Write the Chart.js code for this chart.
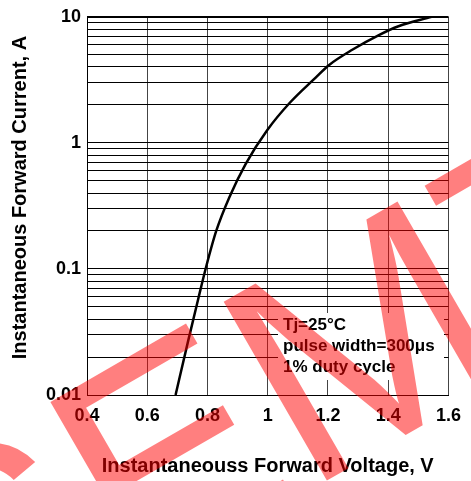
<!DOCTYPE html>
<html>
<head>
<meta charset="utf-8">
<script src="https://cdn.jsdelivr.net/npm/chart.js@4"></script>
<style>
  html, body { margin: 0; padding: 0; background: #fff; }
  canvas { display: block; }
</style>
</head>
<body>
<canvas id="chart" width="471" height="481"></canvas>
<script>
// Forward voltage (V) and forward current (A)
const vf   = [0.694, 0.736, 0.769, 0.796, 0.829, 0.873, 0.926, 0.998, 1.074, 1.151, 1.205, 1.282, 1.369, 1.434, 1.544];
const ifwd = [0.010, 0.027, 0.0575, 0.105, 0.200, 0.372, 0.676, 1.26, 2.09, 3.16, 4.17, 5.50, 7.16, 8.41, 10.0];

// axis ticks
const xTicks = [0.4, 0.6, 0.8, 1.0, 1.2, 1.4, 1.6];
const yLabels = [0.01, 0.1, 1, 10];
const yMantissas = [1, 2, 3, 4, 5, 6, 7, 8, 9];

const noteLines = ['Tj=25°C', 'pulse width=300μs', '1% duty cycle'];
const watermarkText = 'SEMTECH';

const FONT = '"Liberation Sans", Arial, sans-serif';

// grid values for the log axis: 1..9 in every decade, plus the top one
const yGrid = [];
for (let e = -2; e <= 0; e++) {
    yMantissas.forEach(m => yGrid.push(+(m * Math.pow(10, e)).toPrecision(3)));
}
yGrid.push(10);

// white box with the test conditions
const notePlugin = {
    id: 'note',
    afterDatasetsDraw(chart) {
        const ctx = chart.ctx;
        ctx.save();
        ctx.fillStyle = '#fff';
        ctx.fillRect(278, 313, 166, 67);
        ctx.fillStyle = '#000';
        ctx.font = 'bold 17px ' + FONT;
        ctx.textBaseline = 'alphabetic';
        noteLines.forEach((t, i) => ctx.fillText(t, 283, 330 + i * 20.8));
        ctx.restore();
    }
};

// red watermark over everything
const watermarkPlugin = {
    id: 'watermark',
    afterDraw(chart) {
        const ctx = chart.ctx;
        ctx.save();
        ctx.translate(-41, 693);
        ctx.rotate(-30 * Math.PI / 180);
        ctx.font = '300px ' + FONT;
        ctx.fillStyle = 'rgba(255, 0, 0, 0.5)';
        ctx.textBaseline = 'alphabetic';
        ctx.fillText(watermarkText, 0, 0);
        ctx.restore();
    }
};

const tickFont = { family: FONT, size: 18, weight: 'bold' };
const titleFont = { family: FONT, size: 20, weight: 'bold' };

new Chart(document.getElementById('chart').getContext('2d'), {
    type: 'line',
    data: {
        datasets: [{
            data: vf.map((v, i) => ({ x: v, y: ifwd[i] })),
            borderColor: '#000',
            borderWidth: 2.5,
            pointRadius: 0,
            fill: false,
            cubicInterpolationMode: 'monotone'
        }]
    },
    options: {
        responsive: false,
        animation: false,
        layout: { padding: { top: 11, right: 17, bottom: 0, left: 0 } },
        plugins: {
            legend: { display: false },
            tooltip: { enabled: false }
        },
        scales: {
            x: {
                type: 'linear',
                min: 0.4,
                max: 1.6,
                afterBuildTicks: s => { s.ticks = xTicks.map(v => ({ value: v })); },
                afterFit: s => { s.height = 86; },
                grid: { color: '#444', lineWidth: 1, drawTicks: false },
                border: { color: '#000', width: 1 },
                ticks: {
                    autoSkip: false,
                    maxRotation: 0,
                    padding: 10,
                    color: '#000',
                    font: tickFont,
                    callback: v => String(+v.toFixed(1))
                },
                title: {
                    display: true,
                    text: 'Instantaneouss Forward Voltage, V',
                    color: '#000',
                    font: titleFont,
                    padding: { top: 0, bottom: 3 }
                }
            },
            y: {
                type: 'logarithmic',
                min: 0.01,
                max: 10,
                afterBuildTicks: s => { s.ticks = yGrid.map(v => ({ value: v })); },
                afterFit: s => { s.width = 87; },
                grid: {
                    color: '#000',
                    lineWidth: c => (c.tick && c.tick.value === 10 ? 2 : 1),
                    drawTicks: false
                },
                border: { color: '#000', width: 1 },
                ticks: {
                    autoSkip: false,
                    padding: 6,
                    color: '#000',
                    font: tickFont,
                    callback: v => yLabels.some(l => Math.abs(l - v) < l * 1e-6) ? String(v) : ''
                },
                title: {
                    display: true,
                    text: '\u00a0\u00a0\u00a0Instantaneous Forward Current, A',
                    color: '#000',
                    font: titleFont,
                    padding: { top: 8, bottom: 0 }
                }
            }
        }
    },
    plugins: [notePlugin, watermarkPlugin]
});
</script>
</body>
</html>
